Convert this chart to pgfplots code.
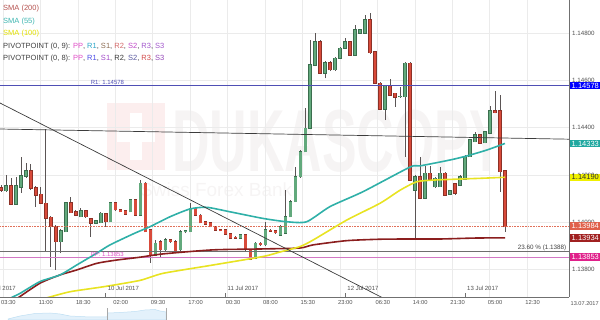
\documentclass[border=0pt]{standalone}
\usepackage{fontspec}
\setmainfont{Liberation Sans}
\usepackage{pgfplots}
\usepackage{pgfplotstable}
\pgfplotsset{compat=1.18}

\definecolor{gridc}{HTML}{EBEBEB}
\definecolor{axisc}{HTML}{707070}
\definecolor{tickc}{HTML}{505050}
\definecolor{gfill}{HTML}{62A97C}
\definecolor{gline}{HTML}{3B6E4E}
\definecolor{rfill}{HTML}{D84A3A}
\definecolor{rline}{HTML}{8C3127}
\definecolor{wickc}{HTML}{5B5555}
\definecolor{smaA}{HTML}{8B1E1E}
\definecolor{smaB}{HTML}{2FB0A8}
\definecolor{smaC}{HTML}{E8E322}
\definecolor{r1c}{HTML}{4F4FB5}
\definecolor{ppc}{HTML}{D277C4}
\definecolor{fibc}{HTML}{6E6E6E}
\definecolor{dotc}{HTML}{E0705A}
\definecolor{trc}{HTML}{3C3C3C}
\definecolor{bxblue}{HTML}{0000FF}
\definecolor{bxteal}{HTML}{20A8A0}
\definecolor{bxyel}{HTML}{F0F000}
\definecolor{bxsal}{HTML}{E0604A}
\definecolor{bxdred}{HTML}{A02020}
\definecolor{bxmag}{HTML}{E0208A}
\definecolor{wmgray}{HTML}{F6F4F4}
\definecolor{wmred}{HTML}{FCEEEE}
\definecolor{navfill}{HTML}{E3F1FB}
\definecolor{navline}{HTML}{BFDFF3}
\definecolor{navsep}{HTML}{A8A8A8}
\definecolor{lgA}{HTML}{B5524F}
\definecolor{lgB}{HTML}{3DB5B0}
\definecolor{lgC}{HTML}{E3E000}
\definecolor{lgD}{HTML}{404040}
\definecolor{pPP}{HTML}{E14FC8}
\definecolor{pRa}{HTML}{2CA6C8}
\definecolor{pSa}{HTML}{8A6A50}
\definecolor{pRb}{HTML}{D46A6A}
\definecolor{pSb}{HTML}{C048C8}
\definecolor{pRc}{HTML}{A257CC}
\definecolor{qRa}{HTML}{4C4CE6}
\definecolor{qSa}{HTML}{A048C8}
\definecolor{qRb}{HTML}{3A3A3A}
\definecolor{qSb}{HTML}{5A5AA0}
\definecolor{qRc}{HTML}{D24B4B}
\definecolor{qSc}{HTML}{9448B8}

\newcommand\fs[1]{\fontsize{#1}{#1}\selectfont}

% hourly candles: h = hour index, o = open, hi = high, lo = low, c = close
\pgfplotstableread{
h o hi lo c
3 1.14133 1.14200 1.14129 1.14153
5 1.14077 1.14191 1.14073 1.14153
6 1.14148 1.14274 1.14125 1.14195
7 1.14195 1.14249 1.14187 1.14218
14 1.13918 1.13971 1.13869 1.13964
15 1.13960 1.14087 1.13959 1.14082
18 1.14023 1.14059 1.14022 1.14049
21 1.13995 1.14009 1.13992 1.14005
22 1.13998 1.14043 1.13995 1.14038
24 1.14002 1.14085 1.14001 1.14082
28 1.14044 1.14098 1.14043 1.14094
30 1.14030 1.14178 1.14026 1.14165
33 1.13861 1.13925 1.13857 1.13911
35 1.13883 1.13933 1.13878 1.13925
38 1.13883 1.13967 1.13874 1.13960
39 1.13960 1.13967 1.13954 1.13963
40 1.13960 1.14081 1.13959 1.14059
50 1.13932 1.13950 1.13929 1.13946
53 1.13847 1.13916 1.13844 1.13911
55 1.13904 1.14002 1.13899 1.13967
58 1.13946 1.13988 1.13942 1.13981
59 1.13953 1.14136 1.13950 1.14023
60 1.14023 1.14094 1.14022 1.14087
61 1.14087 1.14235 1.14085 1.14192
62 1.14192 1.14305 1.14189 1.14298
63 1.14298 1.14482 1.14297 1.14397
64 1.14397 1.14770 1.14394 1.14665
65 1.14665 1.14799 1.14660 1.14763
67 1.14630 1.14682 1.14608 1.14674
69 1.14644 1.14699 1.14639 1.14693
70 1.14693 1.14741 1.14690 1.14735
71 1.14735 1.14778 1.14732 1.14763
73 1.14707 1.14834 1.14703 1.14813
74 1.14800 1.14817 1.14796 1.14813
75 1.14800 1.14876 1.14796 1.14855
79 1.14477 1.14580 1.14432 1.14576
82 1.14531 1.14573 1.14527 1.14533
83 1.14531 1.14677 1.14276 1.14672
85 1.14136 1.14200 1.13925 1.14192
87 1.14101 1.14238 1.14098 1.14207
89 1.14150 1.14191 1.14145 1.14186
90 1.14150 1.14232 1.14149 1.14207
92 1.14118 1.14136 1.14115 1.14132
94 1.14157 1.14200 1.14153 1.14192
95 1.14181 1.14284 1.14178 1.14277
96 1.14277 1.14352 1.14276 1.14348
97 1.14340 1.14381 1.14337 1.14369
99 1.14336 1.14386 1.14333 1.14383
100 1.14376 1.14491 1.14373 1.14471
}\up

\pgfplotstableread{
h o hi lo c
2 1.14146 1.14157 1.14129 1.14136
4 1.14153 1.14187 1.14073 1.14077
8 1.14218 1.14246 1.14136 1.14143
9 1.14146 1.14153 1.14066 1.14115
10 1.14118 1.14150 1.14077 1.14080
11 1.14080 1.14394 1.13875 1.14016
12 1.14021 1.14026 1.13812 1.13981
13 1.13981 1.13988 1.13798 1.13918
16 1.14082 1.14108 1.14039 1.14040
17 1.14044 1.14052 1.14026 1.14030
19 1.14049 1.14052 1.14018 1.14023
20 1.14014 1.14018 1.13939 1.13995
23 1.14035 1.14039 1.13981 1.14002
25 1.14082 1.14085 1.14047 1.14052
26 1.14052 1.14056 1.14043 1.14044
27 1.14049 1.14052 1.14030 1.14035
29 1.14094 1.14098 1.14026 1.14030
31 1.14165 1.14170 1.13959 1.13960
32 1.13967 1.13971 1.13828 1.13861
34 1.13918 1.13925 1.13849 1.13883
36 1.13925 1.13929 1.13912 1.13918
37 1.13918 1.13925 1.13870 1.13875
41 1.14059 1.14064 1.14026 1.14030
42 1.14030 1.14035 1.13995 1.13998
43 1.14002 1.14005 1.13988 1.13992
44 1.13998 1.14001 1.13978 1.13981
45 1.13981 1.13984 1.13963 1.13967
46 1.13967 1.13971 1.13961 1.13964
47 1.13967 1.13969 1.13946 1.13950
48 1.13950 1.13952 1.13929 1.13932
49 1.13936 1.13940 1.13929 1.13932
51 1.13946 1.13950 1.13878 1.13883
52 1.13883 1.13887 1.13840 1.13843
54 1.13911 1.13916 1.13899 1.13904
56 1.13965 1.13971 1.13959 1.13963
57 1.13963 1.13967 1.13952 1.13956
66 1.14763 1.14770 1.14627 1.14630
68 1.14674 1.14682 1.14639 1.14644
72 1.14763 1.14768 1.14703 1.14707
76 1.14855 1.14886 1.14713 1.14717
77 1.14721 1.14724 1.14584 1.14587
78 1.14587 1.14593 1.14474 1.14477
80 1.14576 1.14604 1.14534 1.14538
81 1.14545 1.14548 1.14488 1.14528
84 1.14672 1.14677 1.14174 1.14178
86 1.14192 1.14276 1.14098 1.14101
88 1.14207 1.14238 1.14178 1.14181
91 1.14207 1.14212 1.14111 1.14115
93 1.14162 1.14166 1.14117 1.14122
98 1.14369 1.14373 1.14331 1.14334
101 1.14471 1.14556 1.14460 1.14463
102 1.14471 1.14538 1.14129 1.14214
103 1.14218 1.14221 1.13960 1.13981
}\dn

\pgfplotsset{candle/.style={draw=none, mark=none, forget plot,
  error bars/.cd, y dir=plus, y explicit, error mark=none}}

\begin{document}
\begin{tikzpicture}[x=1pt,y=1pt]
\useasboundingbox (0,0) rectangle (600,320);

% faint watermark
\fill[wmred] (107,217) rectangle (165,150);
\fill[white] (130,207) rectangle (142,160);
\fill[white] (117,190) rectangle (155,178);
\node[anchor=west, inner sep=0pt, text=wmgray, font=\bfseries\fs{88}, xscale=0.59] at (172,178.5) {DUKASCOPY};
\node[anchor=west, inner sep=0pt, text=wmgray, font=\fs{19}] at (140,130) {Swiss Forex Bank};

\begin{axis}[
  at={(0pt,23pt)}, anchor=south west,
  width=569pt, height=297pt, scale only axis,
  xmin=1.818, xmax=115.845, ymin=1.136838, ymax=1.149395,
  axis x line*=bottom, axis y line*=right,
  axis line style={draw=axisc, line width=0.8pt},
  clip mode=individual,
  major tick length=0pt,
  xmajorgrids, ymajorgrids,
  grid style={draw=gridc, line width=0.6pt},
  xtick={2.419,9.922,17.425,24.928,32.431,39.934,47.437,54.94,62.443,69.946,77.449,84.952,92.455,99.958,107.461},
  xticklabels={03:30,11:00,18:30,02:00,09:30,17:00,00:30,08:00,15:30,23:00,06:30,14:00,21:30,05:00,12:30},
  xticklabel style={font=\fs{5.8}, text=tickc, anchor=north, inner sep=0pt, yshift=-3.6pt, xshift=5.4pt},
  ytick={1.138,1.140,1.142,1.144,1.146,1.148},
  yticklabels={1.13800,1.14000,1.14200,1.14400,1.14600,1.14800},
  yticklabel style={font=\fs{6.2}, text=tickc, anchor=west, inner sep=0pt, xshift=3pt},
  extra x ticks={23,47,71,95},
  extra x tick labels={},
  extra x tick style={grid=none, major tick length=4pt, tick align=inside, tick style={draw=axisc, line width=0.7pt}},
]

% wicks
\addplot[candle, error bar style={solid, line width=0.7pt, draw=wickc}]
  table[x=h, y=lo, y error plus expr=\thisrow{hi}-\thisrow{lo}] {\up};
\addplot[candle, error bar style={solid, line width=0.7pt, draw=wickc}]
  table[x=h, y=lo, y error plus expr=\thisrow{hi}-\thisrow{lo}] {\dn};
% bodies: outline
\addplot[candle, error bar style={solid, line width=3.6pt, draw=gline}]
  table[x=h, y expr=\thisrow{o}-0.000025, y error plus expr=\thisrow{c}-\thisrow{o}+0.00005] {\up};
\addplot[candle, error bar style={solid, line width=3.6pt, draw=rline}]
  table[x=h, y expr=\thisrow{c}-0.000025, y error plus expr=\thisrow{o}-\thisrow{c}+0.00005] {\dn};
% bodies: fill
\addplot[candle, error bar style={solid, line width=2.4pt, draw=gfill}]
  table[x=h, y=o, y error plus expr=\thisrow{c}-\thisrow{o}] {\up};
\addplot[candle, error bar style={solid, line width=2.4pt, draw=rfill}]
  table[x=h, y=c, y error plus expr=\thisrow{o}-\thisrow{c}] {\dn};

% pivot / fib / price lines
\addplot[r1c, line width=0.8pt] coordinates {(1.818,1.14578) (115.845,1.14578)};
\addplot[fibc, line width=1.0pt] coordinates {(1.818,1.13875) (115.845,1.13875)};
\addplot[ppc, line width=0.8pt] coordinates {(1.818,1.13853) (115.845,1.13853)};
\addplot[dotc, line width=0.6pt, densely dotted] coordinates {(1.818,1.13984) (115.845,1.13984)};

% moving averages
\addplot[smaA, line width=1.6pt, smooth, tension=0.4] coordinates {
(4.0,1.13660) (5.42,1.13680) (9.83,1.13742) (13.84,1.13777) (17.19,1.13798) (21.20,1.13826)
(25.20,1.13840) (29.87,1.13852) (34.48,1.13866) (44.50,1.13883) (54.52,1.13887) (61.94,1.13891)
(64.54,1.13904) (71.30,1.13922) (77.97,1.13928) (83.98,1.13929) (89.99,1.13929) (97.01,1.13933)
(103.02,1.13934)};
\addplot[smaC, line width=1.6pt, smooth, tension=0.4] coordinates {
(9.5,1.13670) (10.84,1.13678) (15.85,1.13706) (22.52,1.13727) (29.87,1.13754) (34.54,1.13784)
(44.50,1.13819) (54.52,1.13855) (57.93,1.13874) (61.94,1.13897) (64.60,1.13925) (71.30,1.14009)
(77.97,1.14080) (81.97,1.14135) (85.32,1.14171) (88.6,1.14178) (91.99,1.14181) (98.61,1.14186)
(103.02,1.14190)};
\addplot[smaB, line width=1.6pt, smooth, tension=0.4] coordinates {
(3.0,1.13660) (4.02,1.13680) (5.83,1.13699) (9.83,1.13749) (13.84,1.13777) (17.19,1.13819)
(21.20,1.13869) (23.86,1.13904) (28.87,1.13954) (31.88,1.13981) (35.89,1.14023) (39.89,1.14056)
(43.24,1.14063) (47.91,1.14044) (54.52,1.14016) (59.27,1.14002) (63.28,1.14002) (67.95,1.14066)
(74.56,1.14129) (83.98,1.14233) (85.99,1.14238) (91.99,1.14263) (95.34,1.14280) (99.35,1.14305)
(103.02,1.14333)};

% trend lines
\addplot[trc, line width=0.7pt] coordinates {(1.818,1.14394) (115.845,1.14351)};
\addplot[trc, line width=0.7pt] coordinates {(1.818,1.14504) (81.98,1.13643)};

% line labels
\node[anchor=south west, inner sep=0.6pt, text=r1c, font=\fs{6}] at (axis cs:19.85,1.14578) {R1: 1.14578};
\node[anchor=south west, inner sep=0.6pt, text=pPP, font=\fs{6}] at (axis cs:19.85,1.13853) {PP: 1.13853};
\node[anchor=south east, inner sep=0.6pt, text=lgD, font=\fs{6.3}] at (axis cs:115.45,1.13875) {23.60 \% (1.1388)};

% date labels
\node[anchor=west, inner sep=0pt, text=tickc, font=\fs{6}, xshift=2pt, yshift=9pt] at (axis cs:-1,1.136838) {9 Jul 2017};
\node[anchor=west, inner sep=0pt, text=tickc, font=\fs{6}, xshift=2pt, yshift=9pt] at (axis cs:23,1.136838) {10 Jul 2017};
\node[anchor=west, inner sep=0pt, text=tickc, font=\fs{6}, xshift=2pt, yshift=9pt] at (axis cs:47,1.136838) {11 Jul 2017};
\node[anchor=west, inner sep=0pt, text=tickc, font=\fs{6}, xshift=2pt, yshift=9pt] at (axis cs:71,1.136838) {12 Jul 2017};
\node[anchor=west, inner sep=0pt, text=tickc, font=\fs{6}, xshift=2pt, yshift=9pt] at (axis cs:95,1.136838) {13 Jul 2017};
\node[anchor=north west, inner sep=0pt, text=tickc, font=\fs{5.6}, xshift=1.5pt, yshift=-4pt] at (axis cs:115.845,1.136838) {13.07.2017};

% price boxes
\tikzset{pbox/.style={anchor=west, inner sep=0.5pt, minimum width=31pt, minimum height=7.5pt, font=\fs{7.5}, text=white, xshift=0.6pt}}
\node[pbox, fill=bxblue] at (axis cs:115.845,1.14578) {1.14578};
\node[pbox, fill=bxteal] at (axis cs:115.845,1.14333) {1.14333};
\node[pbox, fill=bxyel, text=black!80] at (axis cs:115.845,1.14190) {1.14190};
\node[pbox, fill=bxsal] at (axis cs:115.845,1.13984) {1.13984};
\node[pbox, fill=bxdred] at (axis cs:115.845,1.13934) {1.13934};
\node[pbox, fill=bxmag] at (axis cs:115.845,1.13853) {1.13853};
\end{axis}

% navigator strip
\begin{axis}[at={(0pt,0pt)}, anchor=south west, width=600pt, height=12pt, scale only axis,
  xmin=0, xmax=600, ymin=0, ymax=12, hide axis, clip=false]
\addplot[fill=navfill, draw=navline, line width=0.5pt] coordinates {
(8,1) (20,4) (35,6.5) (50,7) (60,6) (70,4) (90,3) (107,3) (108,7) (120,7.5) (135,8.5)
(145,10) (155,10.5) (160,9) (166,8)} \closedcycle;
\addplot[navsep, line width=0.7pt] coordinates {(107,0) (107,12)};
\addplot[navsep, line width=0.7pt] coordinates {(166,0) (166,12)};
\end{axis}

% legend text
\node[anchor=base west, inner sep=0pt, font=\fs{7.5}, text=lgA] at (3,309) {SMA (200)};
\node[anchor=base west, inner sep=0pt, font=\fs{7.5}, text=lgB] at (3,296.6) {SMA (55)};
\node[anchor=base west, inner sep=0pt, font=\fs{7.5}, text=lgC] at (3,284) {SMA (100)};
\node[anchor=base west, inner sep=0pt, font=\fs{7.5}, text=lgD] at (3,271.6) {PIVOTPOINT (0, 9): \textcolor{pPP}{PP}, \textcolor{pRa}{R1}, \textcolor{pSa}{S1}, \textcolor{pRb}{R2}, \textcolor{pSb}{S2}, \textcolor{pRc}{R3}, \textcolor{pRc}{S3}};
\node[anchor=base west, inner sep=0pt, font=\fs{7.5}, text=lgD] at (3,259.3) {PIVOTPOINT (0, 8): \textcolor{pPP}{PP}, \textcolor{qRa}{R1}, \textcolor{qSa}{S1}, \textcolor{qRb}{R2}, \textcolor{qSb}{S2}, \textcolor{qRc}{R3}, \textcolor{qSc}{S3}};
\end{tikzpicture}
\end{document}
